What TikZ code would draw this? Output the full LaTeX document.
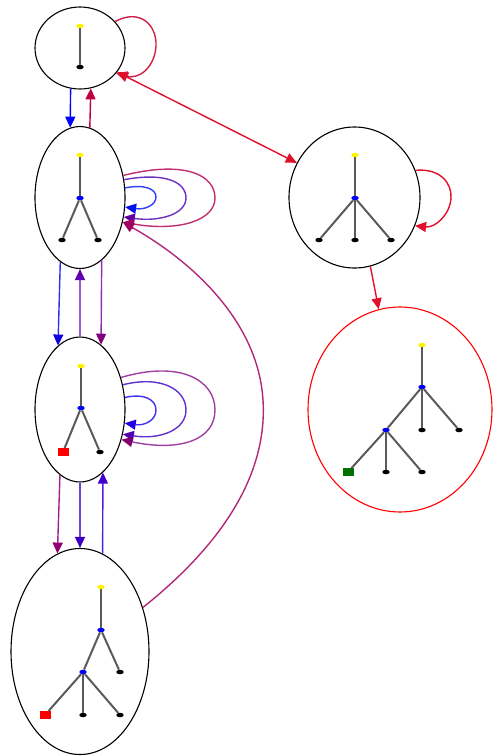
\documentclass[tikz,border=0pt]{standalone}
\usetikzlibrary{shapes.geometric,arrows.meta}
\definecolor{cAloop}{HTML}{D02048}
\definecolor{cBA}{HTML}{C0003C}
\definecolor{cRed}{HTML}{E0102A}
\definecolor{cBinL}{HTML}{3040FF}\definecolor{cBinA}{HTML}{0010F0}
\definecolor{cBmidL}{HTML}{7030C0}\definecolor{cBmidA}{HTML}{6000A0}
\definecolor{cBoutL}{HTML}{C03070}\definecolor{cBoutA}{HTML}{A00060}
\definecolor{cDB}{HTML}{B02878}
\definecolor{cBCl}{HTML}{3030F0}\definecolor{cBCla}{HTML}{1000E0}
\definecolor{cCBm}{HTML}{9060D0}\definecolor{cCBma}{HTML}{6000B0}
\definecolor{cBCr}{HTML}{9030B0}\definecolor{cBCra}{HTML}{800080}
\definecolor{cCinL}{HTML}{4030F0}\definecolor{cCinA}{HTML}{2000E0}
\definecolor{cCmidL}{HTML}{6030D0}\definecolor{cCmidA}{HTML}{5000B0}
\definecolor{cCoutL}{HTML}{A040A0}\definecolor{cCoutA}{HTML}{800070}
\definecolor{cCDl}{HTML}{A02090}\definecolor{cCDla}{HTML}{900070}
\definecolor{cCDm}{HTML}{7040E0}\definecolor{cCDma}{HTML}{4000C0}
\definecolor{cDCr}{HTML}{5020E0}\definecolor{cDCra}{HTML}{4000D0}
\definecolor{treegray}{HTML}{5A5A5A}
\definecolor{dgreen}{HTML}{007000}
\tikzset{
  state/.style={ellipse, draw=black, line width=1.1pt, inner sep=0pt},
  tdot/.style={ellipse, fill=black, inner sep=0pt, minimum width=7.5pt, minimum height=4.5pt},
  ydot/.style={tdot, fill=yellow},
  bdot/.style={tdot, fill=blue},
  sqnode/.style={rectangle, inner sep=0pt, minimum width=11pt, minimum height=7.5pt},
  tedge/.style={draw=treegray, line width=2pt},
  eg/.style 2 args={draw=#1, line width=1.4pt, -{Triangle[length=11pt,width=10pt,color=#2]}},
  egboth/.style={draw=#1, line width=1.4pt, {Triangle[length=11pt,width=10pt]}-{Triangle[length=11pt,width=10pt]}}
}
\begin{document}
\begin{tikzpicture}[x=1pt,y=-1pt]
\useasboundingbox (0,0) rectangle (493,756);
% states
\node[state, minimum width=90pt, minimum height=82pt] (A) at (80,48) {};
\node[state, minimum width=90pt, minimum height=142pt] (B) at (80,197.5) {};
\node[state, minimum width=90pt, minimum height=145pt] (C) at (80,409.5) {};
\node[state, minimum width=138pt, minimum height=206pt] (D) at (80,651.5) {};
\node[state, minimum width=131pt, minimum height=141pt] (E) at (354.5,197.5) {};
\node[state, draw=red, minimum width=184pt, minimum height=205pt] (F) at (400,409.5) {};
% tree A
\node[ydot] (a1) at (80,26) {};
\node[tdot] (a2) at (80,67) {};
\draw[tedge] (a1) -- (a2);
% tree B
\node[ydot] (b1) at (80,155) {};
\node[bdot] (b2) at (80,198) {};
\node[tdot] (b3) at (62,240) {};
\node[tdot] (b4) at (98,240) {};
\draw[tedge] (b1) -- (b2); \draw[tedge] (b2) -- (b3); \draw[tedge] (b2) -- (b4);
% tree C
\node[ydot] (c1) at (81,366) {};
\node[bdot] (c2) at (81,408) {};
\node[sqnode, fill=red] (c3) at (63,452) {};
\node[tdot] (c4) at (100,452) {};
\draw[tedge] (c1) -- (c2); \draw[tedge] (c2) -- (c3); \draw[tedge] (c2) -- (c4);
% tree D
\node[ydot] (d1) at (101,587) {};
\node[bdot] (d2) at (101,630) {};
\node[tdot] (d3) at (120,672) {};
\node[bdot] (d4) at (83,672) {};
\node[sqnode, fill=red] (d5) at (45,715) {};
\node[tdot] (d6) at (83,715) {};
\node[tdot] (d7) at (120,715) {};
\draw[tedge] (d1) -- (d2); \draw[tedge] (d2) -- (d3); \draw[tedge] (d2) -- (d4);
\draw[tedge] (d4) -- (d5); \draw[tedge] (d4) -- (d6); \draw[tedge] (d4) -- (d7);
% tree E
\node[ydot] (e1) at (355,155) {};
\node[bdot] (e2) at (355,198) {};
\node[tdot] (e3) at (319,240) {};
\node[tdot] (e4) at (355,240) {};
\node[tdot] (e5) at (391,240) {};
\draw[tedge] (e1) -- (e2); \draw[tedge] (e2) -- (e3); \draw[tedge] (e2) -- (e4); \draw[tedge] (e2) -- (e5);
% tree F
\node[ydot] (f1) at (422,345) {};
\node[bdot] (f2) at (422,387) {};
\node[tdot] (f3) at (422,430) {};
\node[tdot] (f4) at (459,430) {};
\node[bdot] (f5) at (386,430) {};
\node[sqnode, fill=dgreen] (f6) at (348,472) {};
\node[tdot] (f7) at (386,472) {};
\node[tdot] (f8) at (422,472) {};
\draw[tedge] (f1) -- (f2); \draw[tedge] (f2) -- (f3); \draw[tedge] (f2) -- (f4); \draw[tedge] (f2) -- (f5);
\draw[tedge] (f5) -- (f6); \draw[tedge] (f5) -- (f7); \draw[tedge] (f5) -- (f8);
% edges A
\draw[eg={cAloop}{cAloop}] (A.37) .. controls (140,8) and (157,25) .. (156,46) .. controls (155,66) and (140,80) .. (A.-35);
\draw[egboth=cRed] (A.-33) -- (E.149);
\draw[eg={blue}{blue}] (A.-103) -- (B.98);
\draw[eg={cBA}{cBA}] (B.82) -- (A.-75);
% loops B
\draw[eg={cBinL}{cBinA}] (B.12) .. controls (145,184) and (156,189) .. (156,197) .. controls (156,205) and (145,210) .. (B.-12);
\draw[eg={cBmidL}{cBmidA}] (B.22) .. controls (165,172) and (186,182) .. (186,198) .. controls (186,214) and (160,222) .. (B.-24);
\draw[eg={cBoutL}{cBoutA}] (B.27) .. controls (185,160) and (215,175) .. (215,198) .. controls (215,220) and (180,232) .. (B.-30);
\draw[eg={cDB}{cBoutA}] (D.35) .. controls (215,550) and (268,480) .. (263,400) .. controls (258,320) and (190,260) .. (B.-30);
% B <-> C
\draw[eg={cBCl}{cBCla}] (B.-107.5) -- (C.109);
\draw[eg={cCBm}{cCBma}] (C.north) -- (B.south);
\draw[eg={cBCr}{cBCra}] (B.-71.5) -- (C.72);
% loops C
\draw[eg={cCinL}{cCinA}] (C.15) .. controls (145,393) and (156,400) .. (156,410) .. controls (156,420) and (145,426) .. (C.-17);
\draw[eg={cCmidL}{cCmidA}] (C.30) .. controls (162,375) and (186,390) .. (186,410) .. controls (186,430) and (160,440) .. (C.-30);
\draw[eg={cCoutL}{cCoutA}] (C.38) .. controls (180,360) and (215,380) .. (215,410) .. controls (215,440) and (180,452) .. (C.-36);
% C <-> D
\draw[eg={cCDl}{cCDla}] (C.-107) -- (D.103.3);
\draw[eg={cCDm}{cCDma}] (C.south) -- (D.north);
\draw[eg={cDCr}{cDCra}] (D.77.3) -- (C.-70.7);
% E
\draw[eg={cRed}{cRed}] (E.24) .. controls (440,168) and (452,183) .. (451,198) .. controls (450,215) and (435,228) .. (E.-25);
\draw[eg={cRed}{cRed}] (E.-77.3) -- (F.102.5);
\end{tikzpicture}
\end{document}
